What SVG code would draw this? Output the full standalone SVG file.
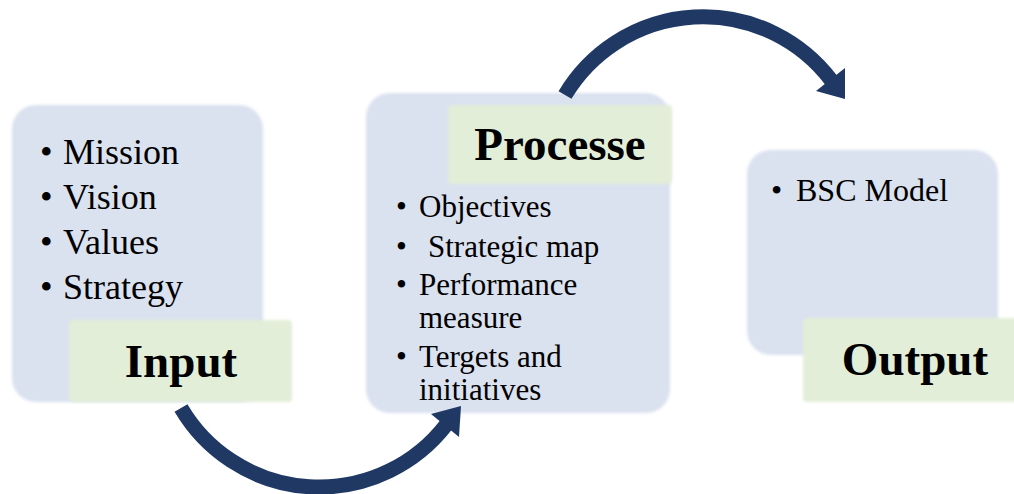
<svg xmlns="http://www.w3.org/2000/svg" width="1014" height="494" viewBox="0 0 1014 494">
  <defs>
    <filter id="soft" x="-10%" y="-10%" width="120%" height="120%">
      <feGaussianBlur stdDeviation="1.6"/>
    </filter>
  </defs>
  <style>
    .panel { fill: #dae1ef; filter: url(#soft); }
    .tag { fill: #e2eed8; filter: url(#soft); }
    .title { font-family: "Liberation Serif", "Times New Roman", serif; font-weight: bold; font-size: 47px; fill: #000; text-anchor: middle; }
    .big { font-family: "Liberation Serif", "Times New Roman", serif; font-size: 36px; fill: #000; }
    .small { font-family: "Liberation Serif", "Times New Roman", serif; font-size: 31px; fill: #000; }
    .arc { fill: none; stroke: #203864; stroke-width: 15; }
    .head { fill: #203864; }
  </style>

  <!-- Input -->
  <g id="input">
    <rect class="panel" x="12" y="105" width="251" height="297" rx="24"/>
    <text class="big" x="40" y="164">•</text><text class="big" x="63" y="164">Mission</text>
    <text class="big" x="40" y="209">•</text><text class="big" x="63" y="209">Vision</text>
    <text class="big" x="40" y="254">•</text><text class="big" x="63" y="254">Values</text>
    <text class="big" x="40" y="299">•</text><text class="big" x="63" y="299">Strategy</text>
    <rect class="tag" x="69" y="320" width="223" height="82" rx="4"/>
    <text class="title" x="181" y="377">Input</text>
  </g>

  <!-- Processe -->
  <g id="process">
    <rect class="panel" x="366" y="93" width="304" height="320" rx="24"/>
    <rect class="tag" x="448" y="105" width="224" height="79" rx="4"/>
    <text class="title" x="560" y="160">Processe</text>
    <text class="small" x="396" y="217">•</text><text class="small" x="419" y="217">Objectives</text>
    <text class="small" x="396" y="257">•</text><text class="small" x="428" y="257">Strategic map</text>
    <text class="small" x="396" y="295">•</text><text class="small" x="419" y="295">Performance</text>
    <text class="small" x="419" y="328">measure</text>
    <text class="small" x="396" y="367">•</text><text class="small" x="419" y="367">Tergets and</text>
    <text class="small" x="419" y="400">initiatives</text>
  </g>

  <!-- Output -->
  <g id="output">
    <rect class="panel" x="747" y="150" width="251" height="205" rx="24"/>
    <text class="small" x="771" y="201" style="font-size:32px">•</text><text class="small" x="796" y="201" style="font-size:32px">BSC Model</text>
    <rect class="tag" x="803" y="318" width="215" height="84" rx="4"/>
    <text class="title" x="915" y="375">Output</text>
  </g>

  <!-- Curved connectors -->
  <g id="connectors">
    <path class="arc" d="M181,408 A160.5,160.5 0 0 0 446,425"/>
    <polygon class="head" points="461,406 431,414 459,437"/>
    <path class="arc" d="M565,95 A161,161 0 0 1 831,80"/>
    <polygon class="head" points="845,99 845,68 816,91"/>
  </g>
</svg>
